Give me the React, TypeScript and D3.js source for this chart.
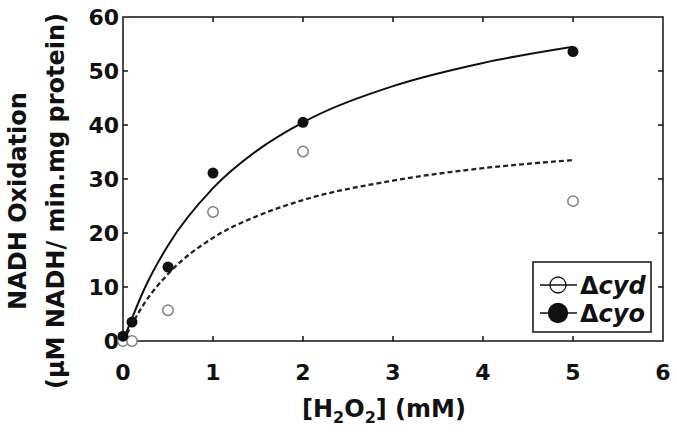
import React, { useEffect, useRef } from "react";
import * as d3 from "d3";

// measured points
const h2o2 = [0, 0.1, 0.5, 1, 2, 5];
const cydValues = [0, 0, 5.7, 23.9, 35.1, 25.9];
const cyoValues = [0.9, 3.5, 13.7, 31.1, 40.5, 53.6];

// fitted curves
const fitX = [0, 0.25, 0.5, 1, 1.5, 2, 3, 4, 5];
const cyoFit = [0, 10.1, 17.7, 28.3, 35.4, 40.5, 47.2, 51.5, 54.5];
const cydFit = [0, 7.3, 12.4, 19.1, 23.2, 26.1, 29.7, 32.0, 33.5];

const xTicks = [0, 1, 2, 3, 4, 5, 6];
const yTicks = [0, 10, 20, 30, 40, 50, 60];

const FONT = "'DejaVu Sans', sans-serif";

const App = () => {
  const ref = useRef<SVGSVGElement | null>(null);

  useEffect(() => {
    const svg = d3.select(ref.current);
    svg.selectAll("*").remove();

    const margin = { top: 17, right: 14, bottom: 91, left: 123 };
    const width = 677 - margin.left - margin.right;
    const height = 432 - margin.top - margin.bottom;

    const g = svg
      .append("g")
      .attr("transform", `translate(${margin.left},${margin.top})`);

    const x = d3.scaleLinear().domain([0, 6]).range([0, width]);
    const y = d3.scaleLinear().domain([0, 60]).range([height, 0]);

    // frame
    g.append("rect")
      .attr("width", width)
      .attr("height", height)
      .style("fill", "none")
      .style("stroke", "#111")
      .style("stroke-width", 1.5);

    // inward ticks on all four sides
    xTicks.slice(1, -1).forEach((t) => {
      g.append("line")
        .attr("x1", x(t)).attr("x2", x(t))
        .attr("y1", height).attr("y2", height - 5)
        .style("stroke", "#111").style("stroke-width", 1.5);
      g.append("line")
        .attr("x1", x(t)).attr("x2", x(t))
        .attr("y1", 0).attr("y2", 5)
        .style("stroke", "#111").style("stroke-width", 1.5);
    });
    yTicks.slice(1, -1).forEach((t) => {
      g.append("line")
        .attr("x1", 0).attr("x2", 5)
        .attr("y1", y(t)).attr("y2", y(t))
        .style("stroke", "#111").style("stroke-width", 1.5);
      g.append("line")
        .attr("x1", width).attr("x2", width - 5)
        .attr("y1", y(t)).attr("y2", y(t))
        .style("stroke", "#111").style("stroke-width", 1.5);
    });

    // tick labels
    g.selectAll(".xlab")
      .data(xTicks)
      .join("text")
      .attr("x", (d) => x(d))
      .attr("y", height + 39)
      .style("font-family", FONT)
      .style("font-weight", "bold")
      .style("font-size", "22px")
      .style("text-anchor", "middle")
      .style("fill", "#111")
      .text((d) => d);

    g.selectAll(".ylab")
      .data(yTicks)
      .join("text")
      .attr("x", -4)
      .attr("y", (d) => y(d))
      .attr("dy", "0.36em")
      .style("font-family", FONT)
      .style("font-weight", "bold")
      .style("font-size", "22px")
      .style("text-anchor", "end")
      .style("fill", "#111")
      .text((d) => d);

    // axis titles
    const xt = svg
      .append("text")
      .attr("x", 384)
      .attr("y", 417)
      .style("font-family", FONT)
      .style("font-weight", "bold")
      .style("font-size", "24px")
      .style("text-anchor", "middle")
      .style("fill", "#111");
    xt.append("tspan").text("[H");
    xt.append("tspan").attr("dy", 6).style("font-size", "16px").text("2");
    xt.append("tspan").attr("dy", -6).text("O");
    xt.append("tspan").attr("dy", 6).style("font-size", "16px").text("2");
    xt.append("tspan").attr("dy", -6).text("] (mM)");

    const yt = svg
      .append("g")
      .attr("transform", `translate(0, 201) rotate(-90)`);
    yt.append("text")
      .attr("x", 0)
      .attr("y", 26)
      .style("font-family", FONT)
      .style("font-weight", "bold")
      .style("font-size", "24px")
      .style("text-anchor", "middle")
      .style("fill", "#111")
      .text("NADH Oxidation");
    yt.append("text")
      .attr("x", 0)
      .attr("y", 64)
      .style("font-family", FONT)
      .style("font-weight", "bold")
      .style("font-size", "24px")
      .style("text-anchor", "middle")
      .style("fill", "#111")
      .text("(µM NADH/ min.mg protein)");

    // fitted curves
    const line = d3
      .line<number>()
      .x((d, i) => x(fitX[i]))
      .y((d) => y(d))
      .curve(d3.curveMonotoneX);

    g.append("path")
      .attr("d", line(cydFit))
      .style("fill", "none")
      .style("stroke", "#222")
      .style("stroke-width", 2.3)
      .style("stroke-dasharray", "5,3");

    g.append("path")
      .attr("d", line(cyoFit))
      .style("fill", "none")
      .style("stroke", "#111")
      .style("stroke-width", 2);

    // points
    g.selectAll(".cyd")
      .data(cydValues)
      .join("circle")
      .attr("cx", (d, i) => x(h2o2[i]))
      .attr("cy", (d) => y(d))
      .attr("r", 5.2)
      .style("fill", "white")
      .style("stroke", "#808080")
      .style("stroke-width", 1.5);

    g.selectAll(".cyo")
      .data(cyoValues)
      .join("circle")
      .attr("cx", (d, i) => x(h2o2[i]))
      .attr("cy", (d) => y(d))
      .attr("r", 5.5)
      .style("fill", "#111");

    // legend
    const lg = svg.append("g").attr("transform", "translate(533, 262)");
    lg.append("rect")
      .attr("width", 118)
      .attr("height", 70)
      .style("fill", "white")
      .style("stroke", "#111")
      .style("stroke-width", 1.5);

    const items = [
      { label: "cyd", open: true },
      { label: "cyo", open: false },
    ];
    items.forEach((it, i) => {
      const cy = 23 + i * 28;
      lg.append("line")
        .attr("x1", 7).attr("x2", 44)
        .attr("y1", cy).attr("y2", cy)
        .style("stroke", "#111").style("stroke-width", 1.5);
      lg.append("circle")
        .attr("cx", 25).attr("cy", cy)
        .attr("r", it.open ? 8 : 9.5)
        .style("fill", it.open ? "none" : "#111")
        .style("stroke", "#111")
        .style("stroke-width", 1.3);
      const t = lg.append("text")
        .attr("x", 47)
        .attr("y", cy)
        .attr("dy", "0.36em")
        .style("font-family", FONT)
        .style("font-weight", "bold")
        .style("font-size", "24px")
        .style("fill", "#111");
      t.append("tspan").text("Δ");
      t.append("tspan").style("font-style", "italic").text(it.label);
    });
  }, []);

  return (
    <svg
      ref={ref}
      width={677}
      height={432}
      style={{ position: "absolute", left: 0, top: 0, background: "white" }}
    />
  );
};

export default App;
